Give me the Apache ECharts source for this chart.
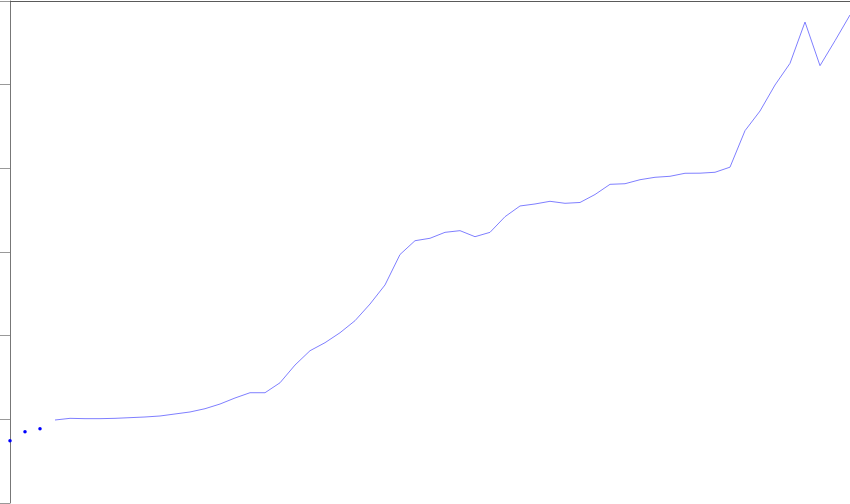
<!DOCTYPE html>
<html>
<head>
<meta charset="utf-8">
<script src="https://cdn.jsdelivr.net/npm/echarts@6/dist/echarts.min.js"></script>
<style>
html,body{margin:0;padding:0;background:#fff;}
#chart{width:850px;height:504px;}
</style>
</head>
<body>
<div id="chart"></div>
<script>
// 57 evenly spaced categories
const categories = [];
for (let y = 1960; y <= 2016; y++) categories.push(String(y));

// first three isolated points (drawn as dots)
const earlyValues = [7.45, 8.52, 8.88];

// continuous line from the 4th category onward
const lineValues = [
  9.92, 10.12, 10.08, 10.08, 10.12, 10.20, 10.28, 10.40, 10.64, 10.88,
  11.27, 11.83, 12.55, 13.18, 13.18, 14.37, 16.49, 18.20, 19.16, 20.35,
  21.79, 23.78, 26.06, 29.70, 31.35, 31.64, 32.35, 32.55, 31.83, 32.35,
  34.22, 35.50, 35.74, 36.06, 35.82, 35.92, 36.87, 38.09, 38.16, 38.64,
  38.93, 39.05, 39.41, 39.42, 39.53, 40.14, 44.50, 46.85, 49.96, 52.55,
  57.49, 52.27, 55.25, 58.33
];

const yTicks = [0, 10, 20, 30, 40, 50, 60];

const dotData = categories.map((c, i) => i < earlyValues.length ? earlyValues[i] : null);
const lineData = categories.map((c, i) => i >= earlyValues.length ? lineValues[i - earlyValues.length] : null);

const chart = echarts.init(document.getElementById('chart'), null, {renderer: 'canvas'});
chart.setOption({
  animation: false,
  backgroundColor: '#ffffff',
  grid: {left: 10, right: 0, top: 1, bottom: 1, containLabel: false},
  xAxis: {
    type: 'category',
    data: categories,
    boundaryGap: false,
    position: 'top',
    axisLine: {show: true, onZero: false, lineStyle: {color: '#5a5a5a', width: 1}},
    axisTick: {show: false},
    axisLabel: {show: false},
    splitLine: {show: false}
  },
  yAxis: {
    type: 'value',
    min: yTicks[0],
    max: yTicks[yTicks.length - 1],
    interval: 10,
    axisLine: {show: true, onZero: false, lineStyle: {color: '#777777', width: 1}},
    axisTick: {show: true, inside: false, length: 10, lineStyle: {color: '#999999'}},
    axisLabel: {show: false},
    splitLine: {show: false}
  },
  series: [
    {
      type: 'line',
      data: dotData,
      showSymbol: true,
      symbol: 'circle',
      symbolSize: 3.5,
      clip: false,
      itemStyle: {color: '#0000ff'},
      lineStyle: {width: 0, opacity: 0}
    },
    {
      type: 'line',
      data: lineData,
      showSymbol: false,
      symbol: 'none',
      lineStyle: {color: '#7f7fff', width: 1},
      itemStyle: {color: '#7f7fff'}
    }
  ]
});
</script>
</body>
</html>
